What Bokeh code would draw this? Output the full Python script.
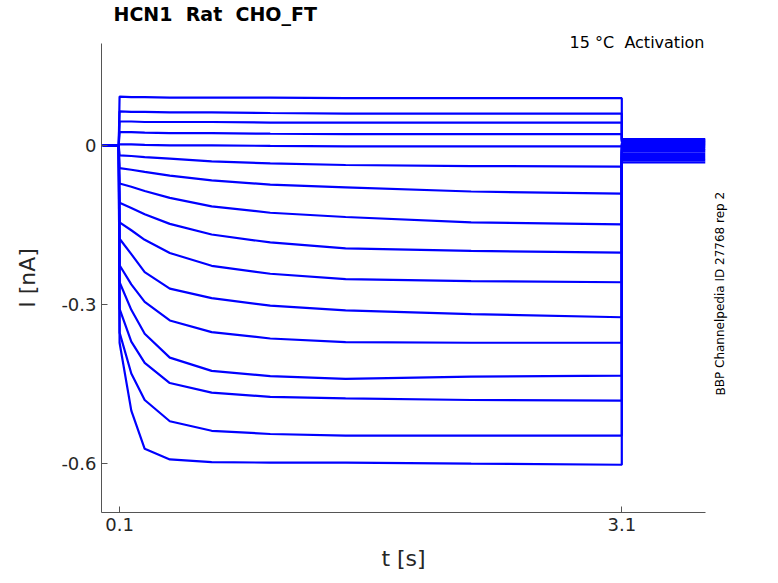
from bokeh.plotting import figure
from bokeh.models import Range1d, Label, FixedTicker
from bokeh.embed import file_html
from bokeh.resources import INLINE

# sample times (s) during the activation step
step_times = [0.1, 0.17, 0.25, 0.4, 0.65, 1.0, 1.45, 2.2, 3.1]
# current traces (nA) at those times, one list per voltage step
traces = [
    [0.092, 0.091, 0.091, 0.090, 0.090, 0.090, 0.089, 0.089, 0.089],
    [0.064, 0.063, 0.063, 0.062, 0.062, 0.061, 0.060, 0.060, 0.060],
    [0.045, 0.045, 0.044, 0.044, 0.044, 0.043, 0.043, 0.043, 0.043],
    [0.025, 0.025, 0.024, 0.023, 0.023, 0.022, 0.021, 0.021, 0.021],
    [0.002, 0.002, 0.001, 0.000, 0.000, -0.001, -0.002, -0.002, -0.002],
    [-0.019, -0.020, -0.022, -0.025, -0.030, -0.034, -0.037, -0.039, -0.040],
    [-0.043, -0.046, -0.050, -0.057, -0.066, -0.074, -0.079, -0.087, -0.091],
    [-0.072, -0.078, -0.086, -0.099, -0.115, -0.127, -0.135, -0.145, -0.149],
    [-0.108, -0.118, -0.130, -0.148, -0.168, -0.183, -0.194, -0.199, -0.202],
    [-0.145, -0.160, -0.178, -0.203, -0.227, -0.242, -0.252, -0.256, -0.258],
    [-0.176, -0.205, -0.239, -0.270, -0.288, -0.302, -0.311, -0.318, -0.324],
    [-0.226, -0.262, -0.295, -0.330, -0.352, -0.364, -0.371, -0.372, -0.372],
    [-0.258, -0.310, -0.355, -0.400, -0.425, -0.435, -0.440, -0.436, -0.434],
    [-0.308, -0.370, -0.410, -0.448, -0.466, -0.474, -0.477, -0.480, -0.481],
    [-0.353, -0.430, -0.480, -0.520, -0.538, -0.544, -0.547, -0.547, -0.547],
    [-0.372, -0.500, -0.572, -0.592, -0.597, -0.598, -0.598, -0.600, -0.602],
]
# baseline before the step and tail current after the step (nA)
pre_values = [0.0] * 16
tail_values = [0.012, 0.010, 0.008, 0.006, 0.004, 0.002, 0.000, -0.003, -0.006,
               -0.009, -0.012, -0.016, -0.020, -0.024, -0.028, -0.032]
pre_times = [0.0, 0.095]
tail_times = [3.1, 3.6]

p = figure(width=770, height=575, output_backend="svg", toolbar_location=None,
           x_range=Range1d(-0.008, 3.6), y_range=Range1d(-0.692, 0.192),
           min_border_left=101, min_border_right=65, min_border_top=0, min_border_bottom=63,
           title="HCN1\u00a0\u00a0Rat\u00a0\u00a0CHO_FT")
p.title.text_font = "DejaVu Sans"
p.title.text_font_size = "19px"
p.title.text_font_style = "bold"
p.title.text_color = "black"
p.title.offset = 12
p.title.standoff = 0
p.grid.visible = False
p.outline_line_color = None
p.background_fill_color = "white"

for pre, tr, tail in zip(pre_values, traces, tail_values):
    xs = pre_times + step_times + tail_times
    ys = [pre, pre] + tr + [tail, tail]
    p.line(xs, ys, line_color="#0000ff", line_width=2.2)

p.xaxis.ticker = FixedTicker(ticks=[0.1, 3.1])
p.yaxis.ticker = FixedTicker(ticks=[-0.6, -0.3, 0])
p.xaxis.major_label_overrides = {0.1: "0.1", 3.1: "3.1"}
p.yaxis.major_label_overrides = {-0.6: "-0.6", -0.3: "-0.3", 0: "0"}
for ax in (p.xaxis, p.yaxis):
    ax.major_tick_in = 6
    ax.major_tick_out = 0
    ax.minor_tick_line_color = None
    ax.axis_line_color = "#555555"
    ax.major_tick_line_color = "#555555"
    ax.major_label_text_font = "DejaVu Sans"
    ax.major_label_text_font_size = "18px"
    ax.major_label_text_color = "#262626"
    ax.axis_label_text_font = "DejaVu Sans"
    ax.axis_label_text_font_size = "22px"
    ax.axis_label_text_font_style = "normal"
    ax.axis_label_text_color = "#262626"
p.xaxis.axis_label = "t [s]"
p.yaxis.axis_label = "I [nA]"
p.xaxis.axis_label_standoff = 12
p.yaxis.axis_label_standoff = 18

p.add_layout(Label(x=603, y=-8, x_units="screen", y_units="screen", text="15 °C\u00a0\u00a0Activation",
                   text_font="DejaVu Sans", text_font_size="16px", text_align="right",
                   text_color="black", text_baseline="bottom"), "above")
p.add_layout(Label(x=22, y=117, x_units="screen", y_units="screen",
                   text="BBP Channelpedia ID 27768 rep 2", angle=1.5708,
                   text_font="DejaVu Sans", text_font_size="12px", text_color="black",
                   text_baseline="bottom"), "right")

open("out.html", "w").write(file_html(p, INLINE))
